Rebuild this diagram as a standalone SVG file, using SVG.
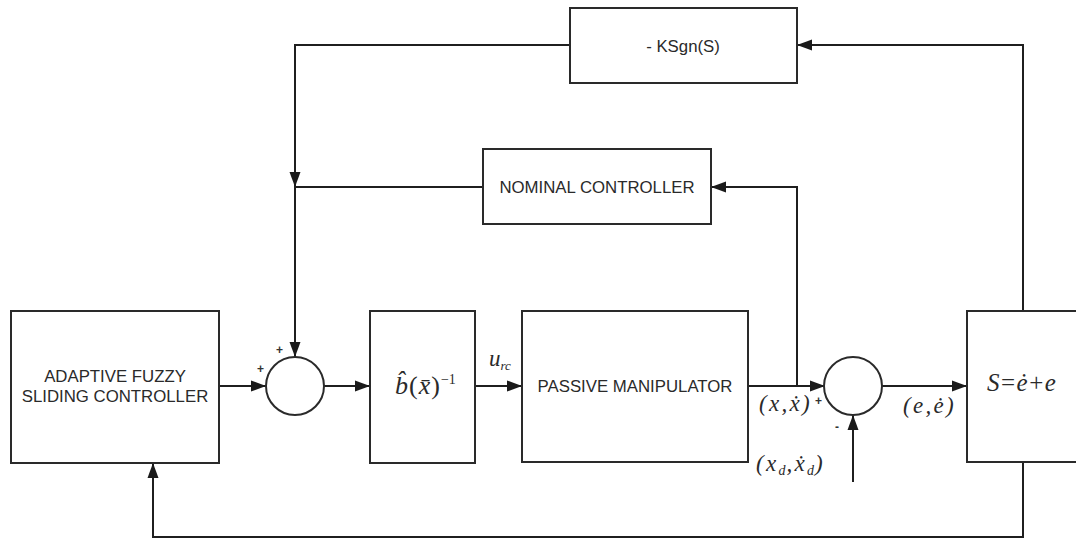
<svg xmlns="http://www.w3.org/2000/svg" width="1076" height="539" viewBox="0 0 1076 539">
<defs>
<marker id="arr" markerUnits="userSpaceOnUse" markerWidth="16" markerHeight="12" viewBox="0 0 16 12" refX="15" refY="6" orient="auto">
<path d="M0,0.5 L15,6 L0,11.5 z" fill="#1a1a1a"/>
</marker>
<style>
.box{fill:#fff;stroke:#2a2a2a;stroke-width:2}
.ln{fill:none;stroke:#1f1f1f;stroke-width:2}
.lbl{font-family:"Liberation Sans",Arial,sans-serif;font-size:16.8px;fill:#2a2a2a;text-anchor:middle}
.m{font-family:"Liberation Serif","Times New Roman",serif;fill:#2a2a2a;font-style:italic}
.r{font-style:normal}
.sg{font-family:"Liberation Sans",Arial,sans-serif;font-size:12px;fill:#333;font-weight:bold}
</style>
</defs>
<rect width="1076" height="539" fill="#fff"/>

<g id="connectors">
<line class="ln" x1="219" y1="386" x2="266" y2="386" marker-end="url(#arr)"/>
<line class="ln" x1="324" y1="386" x2="370" y2="386" marker-end="url(#arr)"/>
<line class="ln" x1="475" y1="386" x2="522" y2="386" marker-end="url(#arr)"/>
<line class="ln" x1="748" y1="386" x2="825" y2="386" marker-end="url(#arr)"/>
<polyline class="ln" points="797,386 797,187 711,187" marker-end="url(#arr)"/>
<line class="ln" x1="882" y1="386" x2="967" y2="386" marker-end="url(#arr)"/>
<line class="ln" x1="853" y1="482" x2="853" y2="415" marker-end="url(#arr)"/>
<polyline class="ln" points="1023,311 1023,45 797,45" marker-end="url(#arr)"/>
<polyline class="ln" points="570,45 295,45 295,187" marker-end="url(#arr)"/>
<line class="ln" x1="483" y1="187" x2="295" y2="187"/>
<line class="ln" x1="295" y1="187" x2="295" y2="357" marker-end="url(#arr)"/>
<polyline class="ln" points="1023,462 1023,537 153,537 153,463" marker-end="url(#arr)"/>
</g>

<g id="ksgn">
<rect class="box" x="570" y="8" width="227" height="75"/>
<text class="lbl" x="683" y="52">- KSgn(S)</text>
</g>

<g id="nominal">
<rect class="box" x="483" y="149" width="228" height="75"/>
<text class="lbl" x="597" y="193">NOMINAL CONTROLLER</text>
</g>

<g id="afsc">
<rect class="box" x="11" y="311" width="208" height="152"/>
<text class="lbl" x="115" y="382">ADAPTIVE FUZZY</text>
<text class="lbl" x="115" y="402">SLIDING CONTROLLER</text>
</g>

<g id="sum1">
<circle class="box" cx="295" cy="386" r="29"/>
<text class="sg" x="257" y="373">+</text>
<text class="sg" x="276" y="354">+</text>
</g>

<g id="binv">
<rect class="box" x="370" y="311" width="105" height="152"/>
<text class="m" x="395" y="394" font-size="26" letter-spacing="1">b̂<tspan class="r">(</tspan>x̄<tspan class="r">)</tspan><tspan class="r" font-size="14" dy="-10" letter-spacing="0">−1</tspan></text>
</g>

<text class="m" x="489" y="366" font-size="23">u<tspan font-size="13" dy="4">rc</tspan></text>

<g id="passive">
<rect class="box" x="522" y="311" width="226" height="151"/>
<text class="lbl" x="635" y="392">PASSIVE MANIPULATOR</text>
</g>

<g id="sum2">
<circle class="box" cx="853" cy="386" r="29"/>
</g>

<text class="m" x="759" y="411" font-size="23" letter-spacing="2.3">(x,ẋ)</text>
<text class="sg" x="815" y="405">+</text>
<text class="m" x="756" y="471" font-size="23" letter-spacing="2.3">(x<tspan font-size="14" dy="4" letter-spacing="1">d</tspan><tspan dy="-4">,</tspan>ẋ<tspan font-size="14" dy="4" letter-spacing="1">d</tspan><tspan dy="-4">)</tspan></text>
<text class="sg" x="835" y="431">-</text>
<text class="m" x="903" y="413" font-size="23" letter-spacing="2.3">(e,ė)</text>

<g id="sbox">
<rect class="box" x="967" y="311" width="120" height="151"/>
<text class="m" x="987" y="391" font-size="25" letter-spacing="1.5">S<tspan class="r">=</tspan>ė<tspan class="r">+</tspan>e</text>
</g>
</svg>
